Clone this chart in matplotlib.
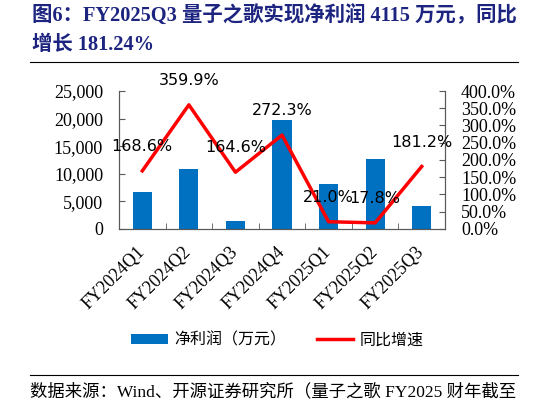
import matplotlib
matplotlib.use("Agg")
import matplotlib.pyplot as plt
from matplotlib.patches import Patch
from matplotlib.lines import Line2D
from matplotlib.ticker import FuncFormatter, MultipleLocator
import numpy as np

categories = ["FY2024Q1", "FY2024Q2", "FY2024Q3", "FY2024Q4", "FY2025Q1", "FY2025Q2", "FY2025Q3"]
net_profit = [6650, 10800, 1450, 19700, 8100, 12680, 4115]
yoy_growth = [168.6, 359.9, 164.6, 272.3, 21.0, 17.8, 181.2]
yoy_labels = ["168.6%", "359.9%", "164.6%", "272.3%", "21.0%", "17.8%", "181.2%"]

SERIF = ["Liberation Serif", "Noto Sans CJK SC"]
CJK = ["Noto Sans CJK SC", "DejaVu Sans"]
SANS = ["DejaVu Sans"]
spine_c = "#595959"

fig = plt.figure(figsize=(5.46, 4.05), dpi=100)
ax = fig.add_axes([0.218, 0.4346, 0.597, 0.3407])
x = np.arange(len(categories))
ax.bar(x, net_profit, width=0.41, color="#0070C0", zorder=2)
ax.set_xlim(-0.5, len(categories) - 0.5)
ax.set_ylim(0, 25000)
ax.yaxis.set_major_locator(MultipleLocator(5000))
ax.yaxis.set_major_formatter(FuncFormatter(lambda v, p: f"{int(v):,}"))
ax.set_xticks(x)
ax.set_xticklabels(categories, rotation=45, ha="right", va="center", rotation_mode="anchor",
                   family=SERIF, fontsize=13)
ax.tick_params(axis="x", length=0, pad=15)
ax.set_xticks(np.arange(-0.5, len(categories), 1.0), minor=True)
ax.tick_params(axis="x", which="minor", direction="in", length=4, color=spine_c)
ax.tick_params(axis="y", direction="in", length=4, color=spine_c, pad=11.5)
for lab in ax.get_yticklabels():
    lab.set_family(SERIF)
    lab.set_fontsize(13)
ax.spines["top"].set_visible(False)
for s in ["left", "bottom", "right"]:
    ax.spines[s].set_color(spine_c)

ax2 = ax.twinx()
ax2.plot(x, yoy_growth, color="#FF0000", linewidth=2.5, zorder=3)
ax2.set_ylim(0, 400)
ax2.yaxis.set_major_locator(MultipleLocator(50))
ax2.yaxis.set_major_formatter(FuncFormatter(lambda v, p: f"{v:.1f}%"))
ax2.tick_params(axis="y", direction="in", length=4, color=spine_c, pad=11.5)
for lab in ax2.get_yticklabels():
    lab.set_family(SERIF)
    lab.set_fontsize(13)
ax2.spines["top"].set_visible(False)
for s in ["left", "bottom", "right"]:
    ax2.spines[s].set_color(spine_c)
for xi, yi, t in zip(x, yoy_growth, yoy_labels):
    ax2.annotate(t, (xi, yi), xytext=(0, 17.5), textcoords="offset points",
                 ha="center", va="center", family=SANS, fontsize=11.5, color="black")

handles = [Patch(facecolor="#0070C0"), Line2D([0], [0], color="#FF0000", linewidth=2.5)]
fig.legend(handles, ["净利润（万元）", "同比增速"], loc="center", bbox_to_anchor=(0.508, 0.16),
           ncol=2, frameon=False, prop={"family": CJK, "size": 11.5}, handlelength=2.3,
           handleheight=0.56, columnspacing=1.9, handletextpad=0.4)

title_c = "#1C2480"
fig.text(0.058, 0.962, "图6：FY2025Q3 量子之歌实现净利润 4115 万元，同比", family=SERIF,
         fontsize=14.7, fontweight="bold", color=title_c, ha="left", va="center")
fig.text(0.058, 0.888, "增长 181.24%", family=SERIF,
         fontsize=14.7, fontweight="bold", color=title_c, ha="left", va="center")
fig.add_artist(Line2D([0.055, 0.949], [0.847, 0.847], color="black", linewidth=0.8))
fig.add_artist(Line2D([0.055, 0.949], [0.074, 0.074], color="black", linewidth=0.8))
fig.text(0.055, 0.032, "数据来源：Wind、开源证券研究所（量子之歌 FY2025 财年截至", family=SERIF,
         fontsize=12.5, color="black", ha="left", va="center")

fig.savefig("out.png", dpi=100)
